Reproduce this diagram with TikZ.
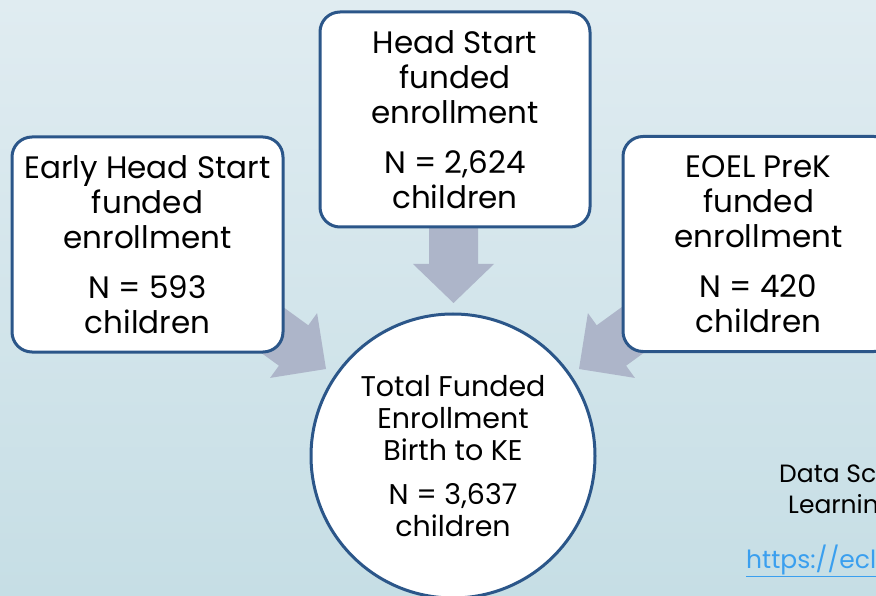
\documentclass[tikz,border=0pt]{standalone}
\usepackage{fontspec}
\setmainfont{Poppins}
\definecolor{edge}{HTML}{2B5689}
\definecolor{arrowc}{HTML}{ADB5C9}
\definecolor{bgtop}{HTML}{E0ECF1}
\definecolor{bgbot}{HTML}{C6DEE5}
\definecolor{linkc}{HTML}{3A9FEF}
\begin{document}
\begin{tikzpicture}[x=1pt,y=-1pt,
  box/.style={draw=edge, line width=3pt, fill=white, rounded corners=20pt,
    minimum width=271pt, minimum height=215pt, align=center, inner sep=0pt,
    font=\fontsize{31}{35}\selectfont},
  hub/.style={circle, draw=edge, line width=3pt, fill=white, minimum size=284pt,
    align=center, inner sep=0pt, font=\fontsize{28.5}{32}\selectfont},
  blockarrow/.style={fill=arrowc, draw=none},
  note/.style={anchor=base west, inner sep=0pt, font=\fontsize{25}{30}\selectfont}]
\useasboundingbox (0,0) rectangle (876,596);
\clip (0,0) rectangle (876,596);
\shade[top color=bgtop, bottom color=bgbot] (0,0) rectangle (876,596);
% block arrows
\fill[blockarrow] (429,220) -- (478,220) -- (478,264) -- (494,264) -- (453.5,303) -- (413,264) -- (429,264) -- cycle;
\fill[blockarrow] (214.2,318.7) -- (278.9,365.7) -- (270.1,377.9) -- (326,369) -- (317.1,313.1) -- (308.3,325.3) -- (243.6,278.3) -- cycle;
\fill[blockarrow] (690.8,318.7) -- (626.1,365.7) -- (634.9,377.9) -- (579,369) -- (587.9,313.1) -- (596.7,325.3) -- (661.4,278.3) -- cycle;
% boxes
\node[box] (ehs) at (147.5,244.5) {Early Head Start\\funded\\enrollment\\[15pt]N = 593\\children};
\node[box, minimum width=270pt] (hs) at (455,119.5) {Head Start\\funded\\enrollment\\[15pt]N = 2,624\\children};
\node[box] (eoel) at (758.5,244) {EOEL PreK\\funded\\enrollment\\[15pt]N = 420\\children};
\node[hub] (total) at (453,456) {Total Funded\\Enrollment\\Birth to KE\\[12pt]N = 3,637\\children};
% source note
\node[note] (src1) at (779,482) {Data Sc};
\node[note] (src2) at (788,513) {Learnin};
\node[note, text=linkc] (src3) at (746,568) {\underline{https://ecl}};
\end{tikzpicture}
\end{document}
